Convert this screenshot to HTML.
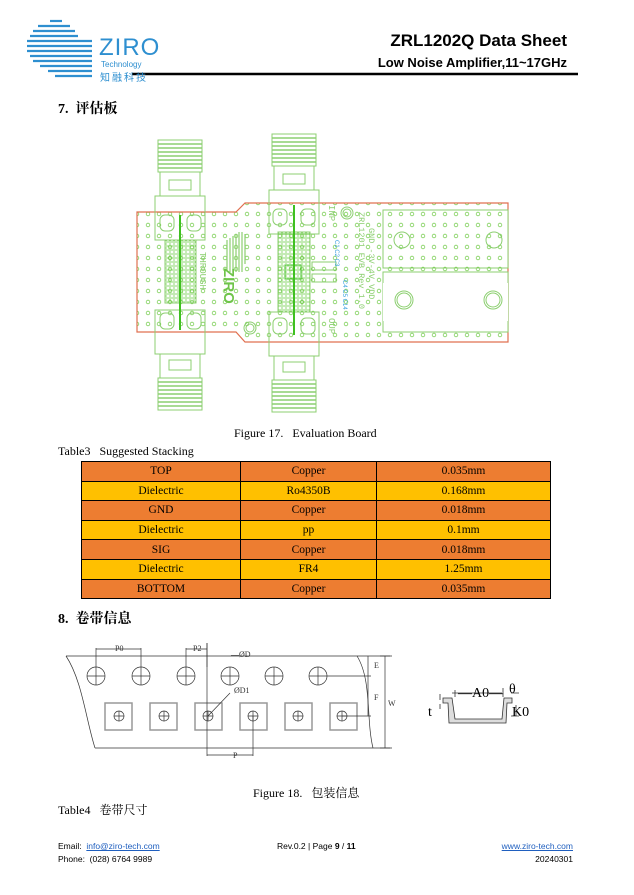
<!DOCTYPE html>
<html><head><meta charset="utf-8"><style>
html,body{margin:0;padding:0;background:#fff;}
body{width:634px;height:895px;position:relative;overflow:hidden;font-family:"Liberation Serif","Noto Serif CJK SC",serif;color:#000;}
.a{position:absolute;white-space:nowrap;}
.sans{font-family:"Liberation Sans","Noto Sans CJK SC",sans-serif;}
table{position:absolute;left:81px;top:461px;border-collapse:collapse;font-size:11.5px;font-family:"Liberation Serif",serif;}
td{border:1px solid #000;height:18.6px;padding:0;text-align:center;}
tr.o td{background:#ed7d31;}
tr.y td{background:#ffc000;}
</style></head><body>
<!-- logo -->
<svg class="a" style="left:0;top:0" width="634" height="120">
 <g stroke="#2e8fd0" stroke-width="2.2">
  <line x1="50" y1="21" x2="62" y2="21"/>
  <line x1="38" y1="26" x2="70" y2="26"/>
  <line x1="33" y1="31" x2="75" y2="31"/>
  <line x1="30" y1="36" x2="78" y2="36"/>
  <line x1="27" y1="41" x2="92" y2="41"/>
  <line x1="27" y1="46" x2="92" y2="46"/>
  <line x1="27" y1="51" x2="92" y2="51"/>
  <line x1="30" y1="56" x2="92" y2="56"/>
  <line x1="33" y1="61" x2="92" y2="61"/>
  <line x1="40" y1="66" x2="92" y2="66"/>
  <line x1="48" y1="71" x2="92" y2="71"/>
  <line x1="55" y1="76" x2="92" y2="76"/>
 </g>
 <line x1="132" y1="74" x2="578" y2="74" stroke="#000" stroke-width="2.5"/>
</svg>
<div class="a sans" style="left:99px;top:34px;font-size:24px;color:#2e8fd0;letter-spacing:1px">ZIRO</div>
<div class="a sans" style="left:101px;top:60px;font-size:8px;color:#2e8fd0">Technology</div>
<div class="a sans" style="left:100px;top:69px;font-size:10px;color:#2e8fd0;letter-spacing:2px">知融科技</div>
<div class="a sans" style="right:67px;top:31px;font-size:17px;font-weight:bold">ZRL1202Q Data Sheet</div>
<div class="a sans" style="right:67px;top:55px;font-size:13px;font-weight:bold">Low Noise Amplifier,11~17GHz</div>
<div class="a" style="left:58px;top:98px;font-size:14px;font-weight:bold">7.&nbsp; 评估板</div>

<!-- PCB -->
<svg class="a" style="left:0;top:0" width="634" height="430">
 <defs>
  <pattern id="via" x="0" y="0" width="11" height="11" patternUnits="userSpaceOnUse">
   <circle cx="5" cy="5" r="1.8" fill="none" stroke="#7fd05a" stroke-width="0.8"/>
  </pattern>
  <pattern id="dense" x="0" y="0" width="4" height="4" patternUnits="userSpaceOnUse">
   <circle cx="2" cy="2" r="1.2" fill="none" stroke="#6fcc4a" stroke-width="0.6"/>
  </pattern>
  <g id="conn" fill="none" stroke="#8ccf70" stroke-width="1">
   <rect x="-22" y="0" width="44" height="32"/>
   <path d="M-22 4h44M-22 8h44M-22 12h44M-22 16h44M-22 20h44M-22 24h44M-22 28h44" stroke-width="1.5"/>
   <rect x="-20" y="32" width="40" height="24"/>
   <rect x="-11" y="40" width="22" height="10"/>
   <rect x="-25" y="56" width="50" height="44"/>
  </g>
 </defs>
 <path d="M137 212 H236 L245 203 H508 V342 H245 L236 332 H137 Z" fill="url(#via)" stroke="#e07050" stroke-width="1.2"/>
 <rect x="383" y="210" width="125" height="58" fill="#fff" stroke="#8ccf70"/>
 <rect x="383" y="272" width="125" height="60" fill="#fff" stroke="#8ccf70"/>
 <rect x="383" y="210" width="125" height="58" fill="url(#via)" stroke="none"/>
 <rect x="383" y="283" width="125" height="38" fill="#fff"/>
 <g fill="none" stroke="#8ccf70">
  <circle cx="402" cy="240" r="8"/><circle cx="494" cy="240" r="8"/>
  <circle cx="404" cy="300" r="9"/><circle cx="404" cy="300" r="7"/>
  <circle cx="493" cy="300" r="9"/><circle cx="493" cy="300" r="7"/>
  <circle cx="347" cy="213" r="6"/><circle cx="347" cy="213" r="4"/>
  <circle cx="250" cy="328" r="6"/><circle cx="250" cy="328" r="4"/>
 </g>
 <use href="#conn" x="180" y="140"/>
 <use href="#conn" transform="translate(180 410) scale(1 -1)"/>
 <use href="#conn" x="294" y="134"/>
 <use href="#conn" transform="translate(294 412) scale(1 -1)"/>
 <rect x="165" y="240" width="31" height="63" fill="url(#dense)" stroke="#8ccf70"/>
 <rect x="278" y="232" width="32" height="80" fill="url(#dense)" stroke="#8ccf70"/>
 <line x1="180" y1="215" x2="180" y2="330" stroke="#3fc020" stroke-width="2"/>
 <line x1="294" y1="205" x2="294" y2="335" stroke="#3fc020" stroke-width="2"/>
 <g fill="none" stroke="#8ccf70">
  <rect x="160" y="215" width="14" height="16" rx="5"/><rect x="187" y="215" width="14" height="16" rx="5"/>
  <rect x="160" y="313" width="14" height="16" rx="5"/><rect x="187" y="313" width="14" height="16" rx="5"/>
  <rect x="273" y="209" width="14" height="16" rx="5"/><rect x="301" y="209" width="14" height="16" rx="5"/>
  <rect x="273" y="318" width="14" height="16" rx="5"/><rect x="301" y="318" width="14" height="16" rx="5"/>
  <rect x="285" y="265" width="16" height="14" stroke="#3fc020"/>
  <rect x="312" y="262" width="24" height="8"/><rect x="312" y="274" width="24" height="8"/>
 </g>
 <g stroke="#8ccf70" stroke-width="1.2">
  <path d="M227 240v30M230 238v34M233 236v36M236 234v38M239 232v40M242 232v40M245 234v30"/>
 </g>
 <text transform="translate(224 268) rotate(90)" font-family="Liberation Sans" font-weight="bold" font-size="15" fill="#6fc44a">ZIRO</text>
 <text transform="translate(200 252) rotate(90)" font-family="Liberation Mono" font-size="9" fill="#8ccf70">THROUGH</text>
 <text transform="translate(329 205) rotate(90)" font-family="Liberation Mono" font-size="9" fill="#8ccf70">INP</text>
 <text transform="translate(329 318) rotate(90)" font-family="Liberation Mono" font-size="9" fill="#8ccf70">OUP</text>
 <text transform="translate(359 212) rotate(90)" font-family="Liberation Mono" font-size="8.5" fill="#8ccf70">ZRL1201 EVB Rev 1.0</text>
 <text transform="translate(369 228) rotate(90)" font-family="Liberation Mono" font-size="8.5" fill="#8ccf70">GND  -3V-4V VDD</text>
 <text transform="translate(335 240) rotate(90)" font-family="Liberation Sans" font-size="6" fill="#3aa0e0">C1 C2 C3</text>
 <text transform="translate(343 280) rotate(90)" font-family="Liberation Sans" font-size="6" fill="#3aa0e0">C4 C5 C14</text>
</svg>
<div class="a" style="left:234px;top:426px;font-size:12px">Figure 17.&nbsp;&nbsp; Evaluation Board</div>
<div class="a" style="left:58px;top:444px;font-size:12px">Table3&nbsp;&nbsp; Suggested Stacking</div>
<table>
<tr class="o"><td style="width:158px">TOP</td><td style="width:135px">Copper</td><td style="width:173px">0.035mm</td></tr>
<tr class="y"><td>Dielectric</td><td>Ro4350B</td><td>0.168mm</td></tr>
<tr class="o"><td>GND</td><td>Copper</td><td>0.018mm</td></tr>
<tr class="y"><td>Dielectric</td><td>pp</td><td>0.1mm</td></tr>
<tr class="o"><td>SIG</td><td>Copper</td><td>0.018mm</td></tr>
<tr class="y"><td>Dielectric</td><td>FR4</td><td>1.25mm</td></tr>
<tr class="o"><td>BOTTOM</td><td>Copper</td><td>0.035mm</td></tr>
</table>
<div class="a" style="left:58px;top:608px;font-size:14px;font-weight:bold">8.&nbsp; 卷带信息</div>

<svg class="a" style="left:0;top:0" width="634" height="780" font-family="Liberation Serif" font-size="8">
 <g fill="none" stroke="#333" stroke-width="0.7">
  <path d="M66 656 H392"/><path d="M95 748 H392"/>
  <path d="M66 656 C82 680 86 720 95 748"/>
  <path d="M357 656 C372 680 366 720 373 748"/>
  <circle cx="96" cy="676" r="9"/><circle cx="141" cy="676" r="9"/><circle cx="186" cy="676" r="9"/>
  <circle cx="230" cy="676" r="9"/><circle cx="274" cy="676" r="9"/><circle cx="318" cy="676" r="9"/>
  <path d="M96 667v18M87 676h18M141 667v18M132 676h18M186 667v18M177 676h18M230 667v18M221 676h18M274 667v18M265 676h18M318 667v18M309 676h18"/>
  <g stroke="#999" stroke-width="1.5">
   <rect x="105" y="703" width="27" height="27"/><rect x="150" y="703" width="27" height="27"/>
   <rect x="195" y="703" width="27" height="27"/><rect x="240" y="703" width="27" height="27"/>
   <rect x="285" y="703" width="27" height="27"/><rect x="330" y="703" width="27" height="27"/>
  </g>
  <circle cx="119" cy="716" r="5"/><circle cx="164" cy="716" r="5"/><circle cx="208" cy="716" r="5"/>
  <circle cx="253" cy="716" r="5"/><circle cx="298" cy="716" r="5"/><circle cx="342" cy="716" r="5"/>
  <path d="M119 711v10M114 716h10M164 711v10M159 716h10M208 711v10M203 716h10M253 711v10M248 716h10M298 711v10M293 716h10M342 711v10M337 716h10"/>
  <path d="M96 667V648M141 667V648M96 649H141M186 667V648M207 667V643M186 649H207"/>
  <path d="M207 643V756M253 716V756M207 755H253"/>
  <path d="M208 716L230 693"/>
  <path d="M327 676H371M342 716H371M368 656V716M380 656H390M380 748H390M385 656V748"/>
 </g>
 <text x="115" y="651" fill="#333">P0</text><text x="193" y="651" fill="#333">P2</text>
 <text x="231" y="657" fill="#333">—ØD</text><text x="234" y="693" fill="#333">ØD1</text>
 <text x="374" y="668" fill="#333">E</text><text x="374" y="700" fill="#333">F</text>
 <text x="388" y="706" fill="#333">W</text><text x="233" y="758" fill="#333">P</text>
 <g fill="none" stroke="#333" stroke-width="0.8">
  <path d="M443 698 H452 L455 719 H502 L504 698 H512 V703 H507 L506 723 H449 L448 703 H443Z" fill="#ddd"/>
  <path d="M452 693 H502 M455 690 V697 M503 688 V697 M511 693H519 M511 716H519 M516 705V716 M440 700v-6 M440 704v5"/>
 </g>
 <text x="458" y="697" font-size="14" fill="#000">—A0—</text>
 <text x="509" y="693" font-size="14" fill="#000">θ</text>
 <text x="512" y="716" font-size="14" fill="#000">K0</text>
 <text x="428" y="716" font-size="14" fill="#000">t</text>
</svg>
<div class="a" style="left:253px;top:784px;font-size:12px">Figure 18.&nbsp;&nbsp; 包装信息</div>
<div class="a" style="left:58px;top:801px;font-size:12px">Table4&nbsp;&nbsp; 卷带尺寸</div>

<div class="a sans" style="left:58px;top:841px;font-size:8.5px">Email:&nbsp; <span style="color:#1f5fbf;text-decoration:underline">info@ziro-tech.com</span></div>
<div class="a sans" style="left:58px;top:854px;font-size:8.5px">Phone:&nbsp; (028) 6764 9989</div>
<div class="a sans" style="left:277px;top:841px;font-size:8.5px">Rev.0.2 | Page <b>9</b> / <b>11</b></div>
<div class="a sans" style="right:61px;top:841px;font-size:8.5px;color:#1f5fbf;text-decoration:underline">www.ziro-tech.com</div>
<div class="a sans" style="right:61px;top:854px;font-size:8.5px">20240301</div>
</body></html>
